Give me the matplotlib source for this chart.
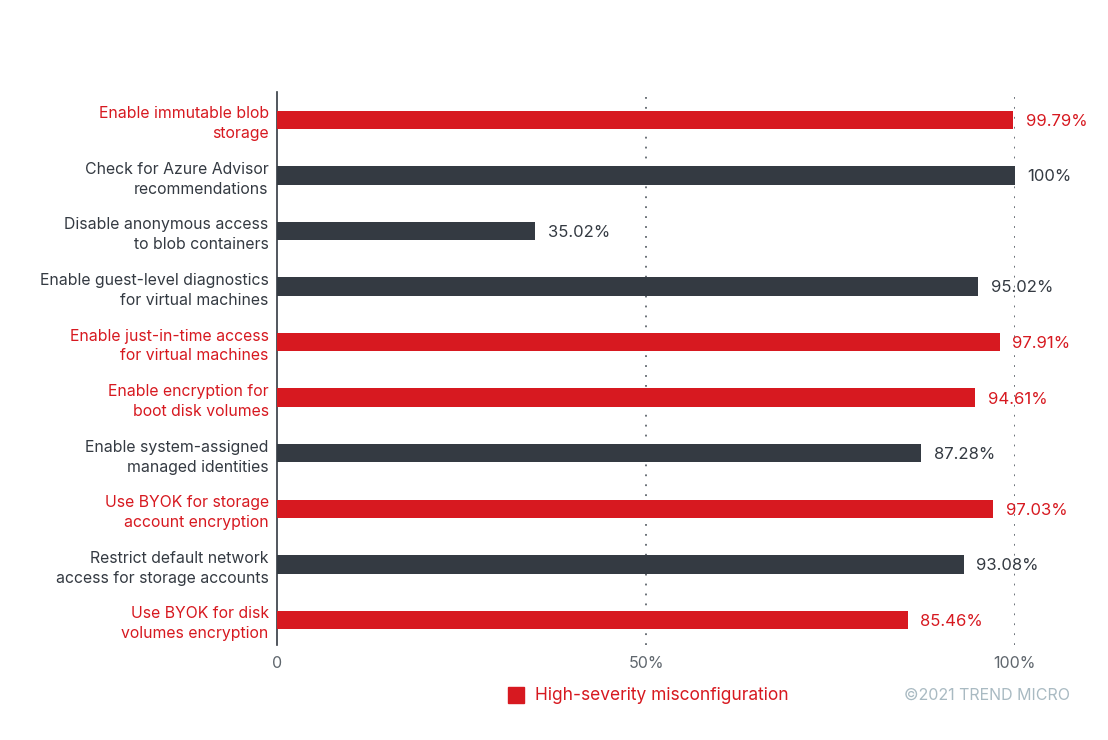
import matplotlib.pyplot as plt
import numpy as np

RED, DARK, GREY, LIGHT = "#D71920", "#343A42", "#5F666D", "#A9BAC2"
plt.rcParams.update({"font.family": ["Inter", "DejaVu Sans"], "font.size": 11})

labels = [
    "Enable immutable blob\nstorage",
    "Check for Azure Advisor\nrecommendations",
    "Disable anonymous access\nto blob containers",
    "Enable guest-level diagnostics\nfor virtual machines",
    "Enable just-in-time access\nfor virtual machines",
    "Enable encryption for\nboot disk volumes",
    "Enable system-assigned\nmanaged identities",
    "Use BYOK for storage\naccount encryption",
    "Restrict default network\naccess for storage accounts",
    "Use BYOK for disk\nvolumes encryption",
]
values = [99.79, 100, 35.02, 95.02, 97.91, 94.61, 87.28, 97.03, 93.08, 85.46]
high_sev = [True, False, False, False, True, True, False, True, False, True]
value_text = ["99.79%", "100%", "35.02%", "95.02%", "97.91%", "94.61%",
              "87.28%", "97.03%", "93.08%", "85.46%"]

fig = plt.figure(figsize=(11.08, 7.4), dpi=100)
ax = fig.add_axes([0.25, 0.1284, 0.666, 0.7473])

y = np.arange(len(labels))
colors = [RED if h else DARK for h in high_sev]
ax.barh(y, values, height=0.33, color=colors, zorder=3)

for g in (50, 100):
    ax.axvline(g, color="#5F666D", linestyle=(0, (1, 4.5)), linewidth=1.3, zorder=1)

for yi, v, t, c in zip(y, values, value_text, colors):
    ax.annotate(t, (v, yi), xytext=(9, -1), textcoords="offset points",
                ha="left", va="center", color=c, fontsize=12)

ax.set_xlim(0, 100)
ax.set_ylim(9.45, -0.5)
ax.set_yticks(y)
ax.set_yticklabels(labels, fontsize=11.4, linespacing=1.4)
for lab, c in zip(ax.get_yticklabels(), colors):
    lab.set_color(c)
ax.set_xticks([0, 50, 100])
ax.set_xticklabels(["0", "50%", "100%"], color=GREY, fontsize=11.5)
ax.tick_params(length=0, pad=8)
ax.tick_params(axis="y", pad=6)

for s in ("top", "right", "bottom"):
    ax.spines[s].set_visible(False)
ax.spines["left"].set_color(DARK)
ax.spines["left"].set_linewidth(1.2)

fig.patches.append(plt.Rectangle((508 / 1108, 1 - 703 / 740), 16 / 1108, 16 / 740,
                                 transform=fig.transFigure, color=RED))
fig.text(535 / 1108, 1 - 695 / 740, "High-severity misconfiguration", color=RED,
         fontsize=12.5, va="center", ha="left")
fig.text(1070 / 1108, 1 - 695 / 740, "\u00a92021 TREND MICRO", color=LIGHT,
         fontsize=11.5, va="center", ha="right")

fig.savefig("out.png", dpi=100, facecolor="white")
